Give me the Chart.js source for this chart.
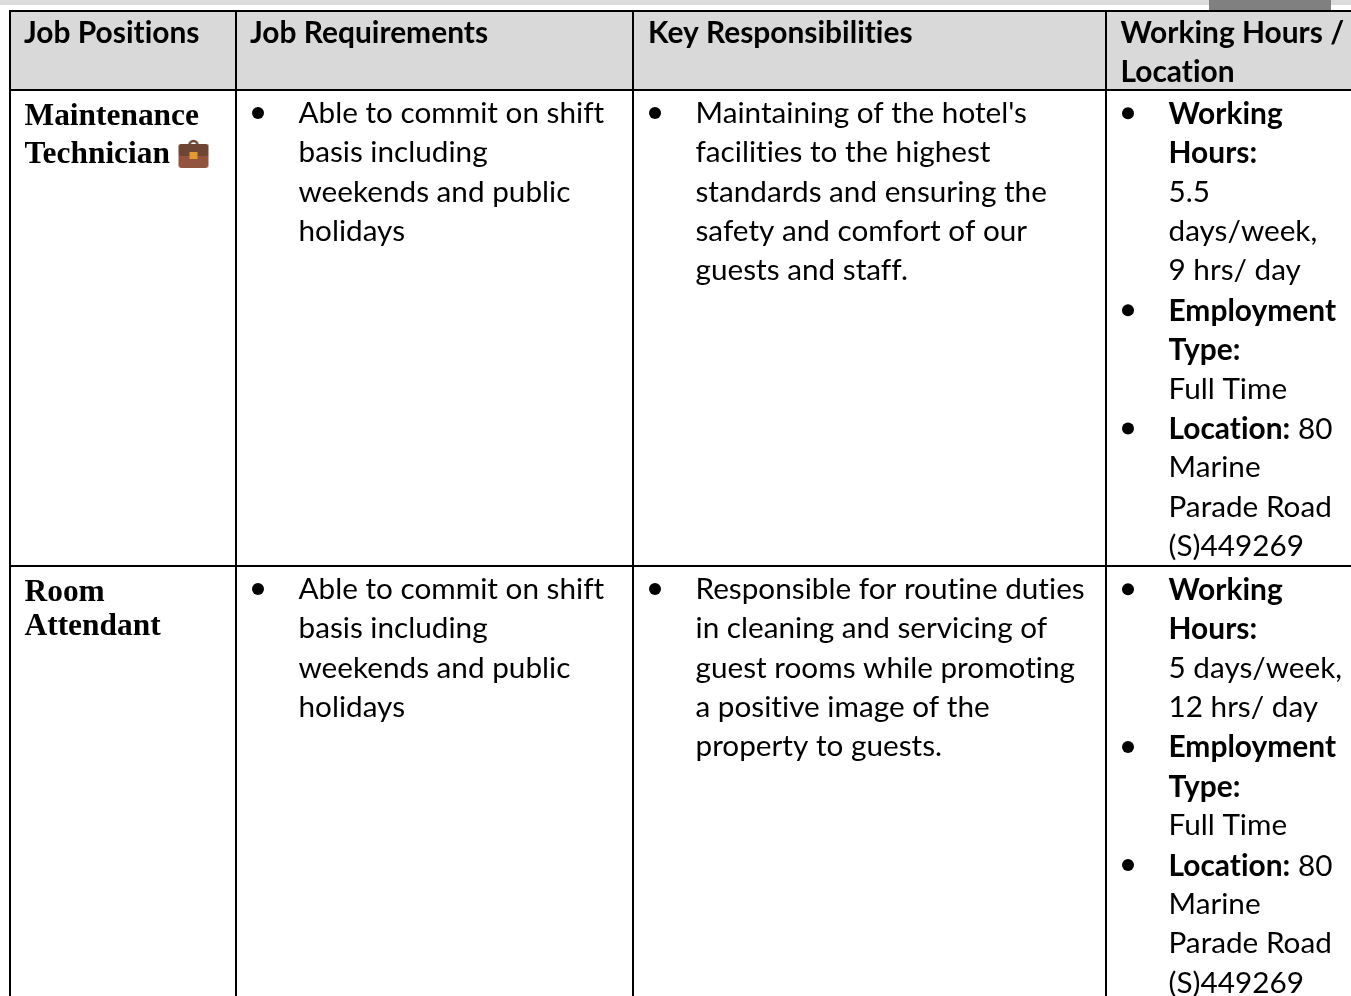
<!DOCTYPE html>
<html>
<head>
<meta charset="utf-8">
<title>Job Positions</title>
<script src="https://cdn.jsdelivr.net/npm/chart.js@4"></script>
<style>
html, body { margin: 0; background: #fff; overflow: hidden; }
canvas { display: block; }
</style>
</head>
<body>
<canvas id="table_chart" width="1351" height="996"></canvas>
<script>
// table content. "*" = bold line, "|" splits bold part from normal part
const headers = [
  ['Job Positions'],
  ['Job Requirements'],
  ['Key Responsibilities'],
  ['Working Hours /', 'Location']
];
const positions = [
  ['Maintenance', 'Technician'],
  ['Room', 'Attendant']
];
const requirements = [
  ['Able to commit on shift', 'basis including', 'weekends and public', 'holidays'],
  ['Able to commit on shift', 'basis including', 'weekends and public', 'holidays']
];
const responsibilities = [
  ["Maintaining of the hotel's", 'facilities to the highest', 'standards and ensuring the', 'safety and comfort of our', 'guests and staff.'],
  ['Responsible for routine duties', 'in cleaning and servicing of', 'guest rooms while promoting', 'a positive image of the', 'property to guests.']
];
const hours = [
  ['*Working', '*Hours:', '5.5', 'days/week,', '9 hrs/ day', '*Employment', '*Type:', 'Full Time', '*Location:| 80', 'Marine', 'Parade Road', '(S)449269'],
  ['*Working', '*Hours:', '5 days/week,', '12 hrs/ day', '*Employment', '*Type:', 'Full Time', '*Location:| 80', 'Marine', 'Parade Road', '(S)449269']
];
// which line of the hours cell carries a bullet
const hourBullets = [[0, 5, 8], [0, 4, 7]];

// layout, in axis units
const columnEdges = [10, 236, 633, 1106];
const rowEdges = [11, 90, 566];
const headerX = [24, 250, 648, 1120.5];
const positionX = 24.5;
const bulletX = [258, 655, 1128];
const textX = [298.5, 695.5, 1168.5];
const rowFirstLine = [122.7, 598.7];
const linePitch = 39.4;
const boldShift = 1;
const headerBaselines = [43, 82];
const positionBaselines = [[125, 163], [601, 635]];

const sans = 'Lato, "Noto Sans", sans-serif';
const serif = '"Liberation Serif", serif';
const bodyFont = '29.7px ' + sans;
const boldFont = 'bold 29.9px ' + sans;
const nameFont = 'bold 31.4px ' + serif;

function lineY(row, i) {
  return rowFirstLine[row] + i * linePitch;
}

// bullets are plain scatter points
const bullets = [];
rowFirstLine.forEach(function(_, row) {
  bullets.push({x: bulletX[0], y: lineY(row, 0) - 9.7});
  bullets.push({x: bulletX[1], y: lineY(row, 0) - 9.7});
  hourBullets[row].forEach(function(i) {
    bullets.push({x: bulletX[2], y: lineY(row, i) - 9.4});
  });
});

// briefcase icon, used as point style
function makeBriefcase() {
  const c = document.createElement('canvas');
  c.width = 32; c.height = 30;
  const g = c.getContext('2d');
  g.strokeStyle = '#6e4636'; g.lineWidth = 2.5;
  g.beginPath(); g.arc(16, 6, 4, Math.PI, 0); g.stroke();
  g.fillStyle = '#92543f';
  g.beginPath(); g.roundRect(1, 5, 30, 24, 3); g.fill();
  g.fillStyle = '#6f4635';
  g.beginPath(); g.roundRect(1, 5, 30, 12, 3); g.fill();
  g.fillStyle = '#e39a32';
  g.fillRect(12, 13, 8, 7);
  return c;
}

function drawLine(ctx, xs, ys, text, x, y, font) {
  ctx.font = font;
  ctx.fillText(text, xs.getPixelForValue(x), ys.getPixelForValue(y));
}

const tableText = {
  id: 'tableText',
  beforeDraw: function(chart) {
    // strip of the page above the table
    const ctx = chart.ctx;
    ctx.save();
    ctx.fillStyle = '#dcdcdc';
    ctx.fillRect(0, 0, 1351, 5);
    ctx.fillStyle = '#808080';
    ctx.fillRect(1209, 0, 122, 10);
    ctx.restore();
  },
  afterDatasetsDraw: function(chart) {
    const ctx = chart.ctx, xs = chart.scales.x, ys = chart.scales.y;
    ctx.save();
    ctx.fillStyle = '#000';
    ctx.textBaseline = 'alphabetic';
    ctx.letterSpacing = '0.01px'; // stops the ti/ft ligatures of Lato
    headers.forEach(function(lines, col) {
      lines.forEach(function(t, i) {
        drawLine(ctx, xs, ys, t, headerX[col], headerBaselines[i], boldFont);
      });
    });
    positions.forEach(function(lines, row) {
      lines.forEach(function(t, i) {
        drawLine(ctx, xs, ys, t, positionX, positionBaselines[row][i], nameFont);
      });
    });
    [requirements, responsibilities].forEach(function(cells, col) {
      cells.forEach(function(lines, row) {
        lines.forEach(function(t, i) {
          drawLine(ctx, xs, ys, t, textX[col], lineY(row, i), bodyFont);
        });
      });
    });
    hours.forEach(function(lines, row) {
      lines.forEach(function(t, i) {
        const y = lineY(row, i);
        if (t[0] !== '*') {
          drawLine(ctx, xs, ys, t, textX[2], y, bodyFont);
          return;
        }
        const parts = t.slice(1).split('|');
        drawLine(ctx, xs, ys, parts[0], textX[2], y + boldShift, boldFont);
        if (parts[1]) {
          const w = ctx.measureText(parts[0]).width;
          drawLine(ctx, xs, ys, parts[1], textX[2] + w, y + boldShift, bodyFont);
        }
      });
    });
    ctx.restore();
  }
};

new Chart(document.getElementById('table_chart'), {
  type: 'scatter',
  data: {
    datasets: [
      {
        // header shading
        data: [{x: columnEdges[0], y: rowEdges[0]}, {x: 1351, y: rowEdges[0]}],
        showLine: true,
        borderWidth: 0,
        pointRadius: 0,
        backgroundColor: '#d9d9d9',
        fill: {value: rowEdges[1]}
      },
      {
        data: bullets,
        pointStyle: 'circle',
        pointRadius: 6,
        backgroundColor: '#000',
        borderWidth: 0
      },
      {
        data: [{x: 193.5, y: 154}],
        pointStyle: makeBriefcase(),
        pointRadius: 15
      }
    ]
  },
  options: {
    responsive: false,
    animation: false,
    events: [],
    layout: {autoPadding: false, padding: {left: 9, top: 10, right: 0, bottom: 0}},
    plugins: {legend: {display: false}, tooltip: {enabled: false}},
    scales: {
      x: {
        type: 'linear', min: 9, max: 1351,
        afterBuildTicks: function(scale) {
          scale.ticks = columnEdges.map(function(v) { return {value: v}; });
        },
        ticks: {display: false, autoSkip: false},
        border: {display: false},
        grid: {color: '#000', lineWidth: 2, drawTicks: false, z: 1}
      },
      y: {
        type: 'linear', min: 10, max: 996, reverse: true,
        afterBuildTicks: function(scale) {
          scale.ticks = rowEdges.map(function(v) { return {value: v}; });
        },
        ticks: {display: false, autoSkip: false},
        border: {display: false},
        grid: {color: '#000', lineWidth: 2, drawTicks: false, z: 1}
      }
    }
  },
  plugins: [tableText]
});
</script>
</body>
</html>
